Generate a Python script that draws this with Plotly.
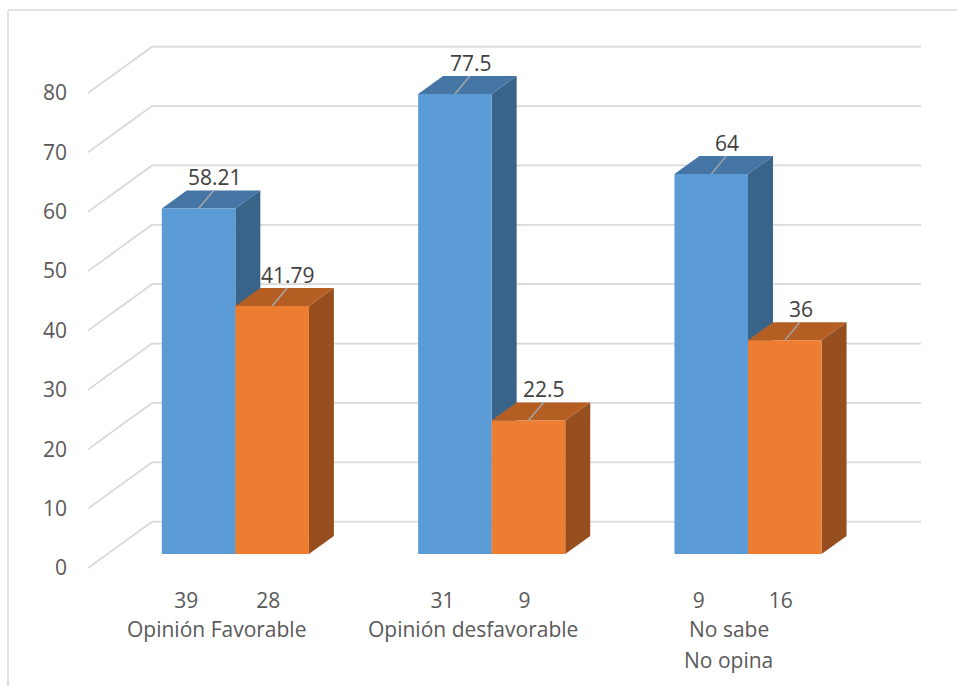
import plotly.graph_objects as go

# ---- data -------------------------------------------------------------
categories = ["Opinión Favorable", "Opinión desfavorable", "No sabe<br>No opina"]
series_a = [58.21, 77.5, 64]      # blue series (%)
series_b = [41.79, 22.5, 36]      # orange series (%)
counts_a = [39, 31, 9]            # sub-category labels under blue bars
counts_b = [28, 9, 16]            # sub-category labels under orange bars
y_ticks = [0, 10, 20, 30, 40, 50, 60, 70, 80]

# ---- styling / geometry of the oblique 3-D projection -----------------
FIG_W, FIG_H = 957, 686
M_L, M_B = 88, 101
PX_PER_CAT = 256.33          # pixels per category slot
PX_PER_UNIT = 5.9375         # pixels per value unit
PLOT_W = FIG_W - M_L
PLOT_H = FIG_H - M_B
FRONT_ZERO_PX = 17           # distance of the front-plane zero above plot bottom

DX = 64 / PX_PER_CAT         # full depth of the chart, x component (category units)
DY = 46.3 / PX_PER_UNIT      # full depth, y component (value units)
F0 = 0.30                    # depth fraction where the bar fronts sit
FD = 0.39                    # depth fraction occupied by the bars
BAR_W = 0.287                # width of one bar (category units)

FRONT = ["#5b9bd5", "#ed7d31"]
TOP = ["#4475a5", "#b45e24"]
SIDE = ["#386489", "#974e1f"]
GRID = "#d9d9d9"
TXT = "#595959"
FONT = "Open Sans"
FS = 21

x_lo = -0.5
x_hi = -0.5 + PLOT_W / PX_PER_CAT
y_lo = -FRONT_ZERO_PX / PX_PER_UNIT
y_hi = (PLOT_H - FRONT_ZERO_PX) / PX_PER_UNIT

fig = go.Figure()


def poly(xs, ys, color):
    fig.add_trace(go.Scatter(
        x=xs + [xs[0]], y=ys + [ys[0]], mode="lines", fill="toself",
        fillcolor=color, line=dict(width=0, color=color),
        hoverinfo="skip", showlegend=False, cliponaxis=False))


def seg(x0, y0, x1, y1, color, width):
    fig.add_trace(go.Scatter(
        x=[x0, x1], y=[y0, y1], mode="lines",
        line=dict(color=color, width=width),
        hoverinfo="skip", showlegend=False, cliponaxis=False))


# gridlines: diagonal on the left wall + horizontal on the back wall
n_cat = len(categories)
for v in y_ticks:
    seg(x_lo, v, x_lo + DX, v + DY, GRID, 1.8)
    seg(x_lo + DX, v + DY, x_lo + n_cat + DX, v + DY, GRID, 1.8)

# bars
bx0 = F0 * DX
by0 = F0 * DY
ddx = FD * DX
ddy = FD * DY
label_dx = 16 / PX_PER_CAT
label_dy = 13 / PX_PER_UNIT
lead_dx = 15 / PX_PER_CAT

annotations = []
for i in range(n_cat):
    for s, vals in enumerate([series_a, series_b]):
        v = vals[i]
        x0 = i - BAR_W + s * BAR_W + bx0
        x1 = x0 + BAR_W
        # side face
        poly([x1, x1 + ddx, x1 + ddx, x1],
             [by0, by0 + ddy, by0 + ddy + v, by0 + v], SIDE[s])
        # top face
        poly([x0, x1, x1 + ddx, x0 + ddx],
             [by0 + v, by0 + v, by0 + v + ddy, by0 + v + ddy], TOP[s])
        # front face
        poly([x0, x1, x1, x0], [by0, by0, by0 + v, by0 + v], FRONT[s])

        cx = (x0 + x1) / 2
        # leader line + value label
        seg(cx, by0 + v, cx + lead_dx, by0 + v + ddy, "#a6a6a6", 1.5)
        annotations.append(dict(
            x=cx + label_dx, y=by0 + v + ddy + label_dy, xref="x", yref="y",
            text=f"{v:g}", showarrow=False, xanchor="center", yanchor="middle",
            font=dict(family=FONT, size=FS, color="#404040")))

# pixel -> paper helpers (for items placed in the margins)
px2x = lambda px: (px - M_L) / PLOT_W
py2y = lambda py: (PLOT_H - py) / PLOT_H

# category names below the sub-category counts
for i, name in enumerate(categories):
    for k, line in enumerate(name.split("<br>")):
        annotations.append(dict(
            x=i, y=py2y(629 + 31 * k), xref="x", yref="paper",
            text=line, showarrow=False, xanchor="center", yanchor="middle",
            font=dict(family=FONT, size=FS, color=TXT)))

# sub-category ticks (counts) on the x axis
tick_vals, tick_text = [], []
for i in range(n_cat):
    tick_vals += [i - 0.117, i + 0.203]
    tick_text += [str(counts_a[i]), str(counts_b[i])]

# outer chart border (top and left edges)
shapes = [
    dict(type="line", xref="paper", yref="paper",
         x0=px2x(8), y0=py2y(10), x1=px2x(FIG_W + 5), y1=py2y(10),
         line=dict(color=GRID, width=1.5)),
    dict(type="line", xref="paper", yref="paper",
         x0=px2x(8), y0=py2y(10), x1=px2x(8), y1=py2y(FIG_H + 5),
         line=dict(color=GRID, width=1.5)),
]

fig.update_layout(
    width=FIG_W, height=FIG_H,
    margin=dict(l=M_L, r=0, t=0, b=M_B, pad=0),
    paper_bgcolor="white", plot_bgcolor="white",
    showlegend=False,
    annotations=annotations,
    shapes=shapes,
    xaxis=dict(range=[x_lo, x_hi], tickmode="array", tickvals=tick_vals,
               ticktext=tick_text, showgrid=False, zeroline=False,
               showline=False, ticks="", ticklabelstandoff=1,
               tickfont=dict(family=FONT, size=FS, color=TXT), fixedrange=True),
    yaxis=dict(range=[y_lo, y_hi], tickmode="array", tickvals=y_ticks,
               showgrid=False, zeroline=False, showline=False, ticks="",
               ticklabelstandoff=20,
               tickfont=dict(family=FONT, size=FS, color=TXT), fixedrange=True),
)

fig.write_html("out.html")
